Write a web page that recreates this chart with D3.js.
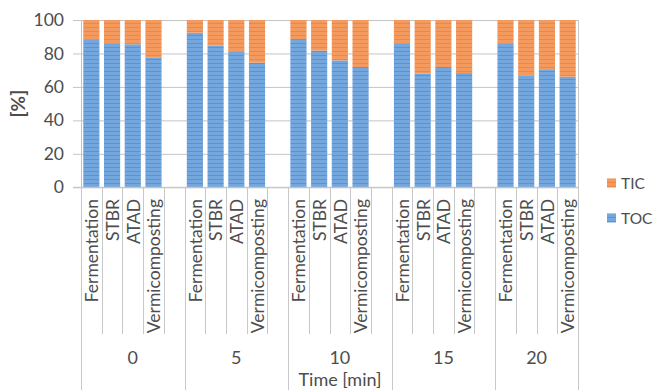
<!DOCTYPE html>
<html><head><meta charset="utf-8">
<script src="https://cdn.jsdelivr.net/npm/d3@7"></script>
<style>body{margin:0;background:#fff}text{font-family:Lato,"Open Sans",sans-serif;fill:#4d4d4d}</style>
</head><body>
<svg id="c" width="654" height="390"></svg>
<script>
const groups = ["0", "5", "10", "15", "20"];
const categories = ["Fermentation", "STBR", "ATAD", "Vermicomposting"];
const tocValues = [
  [88.5, 86.1, 85.5, 77.7],
  [92.4, 84.6, 81.3, 74.5],
  [88.6, 81.7, 75.9, 71.9],
  [85.7, 67.9, 71.9, 68.3],
  [85.7, 66.7, 70.1, 66.1]
];
const ticValues = [
  [11.5, 13.9, 14.5, 22.3],
  [7.6, 15.4, 18.7, 25.5],
  [11.4, 18.3, 24.1, 28.1],
  [14.3, 32.1, 28.1, 31.7],
  [14.3, 33.3, 29.9, 33.9]
];
const yTicks = [0, 20, 40, 60, 80, 100];
const seriesNames = ["TOC", "TIC"];
const xTitle = "Time [min]";
const yTitle = "[%]";

const svg = d3.select("#c");
const L = 81, R = 578, T = 20, B = 187.3;

const defs = svg.append("defs");
function stripes(id, base, line) {
  const p = defs.append("pattern").attr("id", id).attr("patternUnits", "userSpaceOnUse")
    .attr("width", 8).attr("height", 4);
  p.append("rect").attr("width", 8).attr("height", 4).attr("fill", base);
  p.append("rect").attr("y", 3).attr("width", 8).attr("height", 1).attr("fill", line);
}
stripes("pTOC", "#74a7dd", "#5b93d2");
stripes("pTIC", "#f49a5e", "#ee8646");
const fills = {TOC: "url(#pTOC)", TIC: "url(#pTIC)"};

const rows = [];
const keys = [];
groups.forEach((g, gi) => {
  categories.forEach((c, ci) => {
    const k = g + "|" + c;
    keys.push(k);
    rows.push({key: k, group: g, cat: c, TOC: tocValues[gi][ci], TIC: ticValues[gi][ci]});
  });
  if (gi < groups.length - 1) keys.push(g + "|_");
});

const pad = 0.22;
const x = d3.scaleBand().domain(keys).range([L, R]).paddingInner(pad).paddingOuter(pad / 2);
const y = d3.scaleLinear().domain([0, 100]).range([B, T]);
const step = x.step();
const slotLeft = k => x(k) - step * pad / 2;

svg.append("g").attr("transform", `translate(${L},0)`)
  .call(d3.axisLeft(y).tickValues(yTicks).tickSize(-(R - L)).tickFormat(""))
  .call(g => g.select(".domain").remove())
  .call(g => g.selectAll("line").attr("stroke", "#c4c4c4"));

svg.append("g").attr("transform", `translate(${L},0)`)
  .call(d3.axisLeft(y).tickValues(yTicks).tickSize(8).tickPadding(9).tickSizeOuter(0))
  .call(g => g.select(".domain").attr("stroke", "#c4c4c4"))
  .call(g => g.selectAll("line").attr("stroke", "#c4c4c4"))
  .call(g => g.selectAll("text").attr("font-size", 17.5).style("fill", "#4d4d4d").attr("font-family", "Lato"));

const stack = d3.stack().keys(seriesNames)(rows);
svg.append("g").selectAll("g").data(stack).join("g")
  .attr("fill", d => fills[d.key])
  .selectAll("rect").data(d => d).join("rect")
  .attr("x", d => x(d.data.key))
  .attr("width", x.bandwidth())
  .attr("y", d => y(d[1]))
  .attr("height", d => y(d[0]) - y(d[1]));

const ax = svg.append("g").attr("stroke", "#c8c8c8").attr("stroke-width", 1);
ax.append("line").attr("x1", 73).attr("x2", R).attr("y1", B).attr("y2", B).attr("stroke", "#c4c4c4");
keys.forEach((k, i) => {
  const isGroupStart = i % 5 === 0;
  const xl = Math.round(slotLeft(k)) + 0.5;
  ax.append("line").attr("x1", xl).attr("x2", xl).attr("y1", B).attr("y2", isGroupStart ? 390 : 334);
});
ax.append("line").attr("x1", R + 0.5).attr("x2", R + 0.5).attr("y1", T).attr("y2", 390);

svg.append("g").selectAll("text").data(rows).join("text")
  .attr("transform", d => `translate(${x(d.key) + x.bandwidth() / 2 + 0.5},199) rotate(-90)`)
  .attr("text-anchor", "end").attr("dy", "0.36em")
  .attr("font-size", 17.5)
  .text(d => d.cat);

svg.append("g").selectAll("text").data(groups).join("text")
  .attr("x", (g, gi) => {
    const first = slotLeft(g + "|" + categories[0]);
    const last = gi < groups.length - 1 ? slotLeft(g + "|_") + step : R;
    return (first + last) / 2;
  })
  .attr("y", 358).attr("dy", "0.36em").attr("text-anchor", "middle").attr("font-size", 18)
  .text(g => g);

svg.append("text").attr("x", 340).attr("y", 380).attr("dy", "0.36em").attr("text-anchor", "middle")
  .attr("font-size", 18).text(xTitle);

svg.append("text").attr("transform", `translate(18,${(T + B) / 2}) rotate(-90)`)
  .attr("text-anchor", "middle").attr("dy", "0.36em").attr("font-size", 19).attr("font-weight", "bold")
  .text(yTitle);

const leg = [{name: "TIC", y: 183}, {name: "TOC", y: 218}];
const lg = svg.append("g").selectAll("g").data(leg).join("g")
  .attr("transform", d => `translate(607,${d.y})`);
lg.append("rect").attr("x", 0).attr("y", -4.5).attr("width", 9).attr("height", 9)
  .attr("fill", d => fills[d.name]);
lg.append("text").attr("x", 14).attr("dy", "0.36em").attr("font-size", 15.5).text(d => d.name);
</script>
</body></html>
